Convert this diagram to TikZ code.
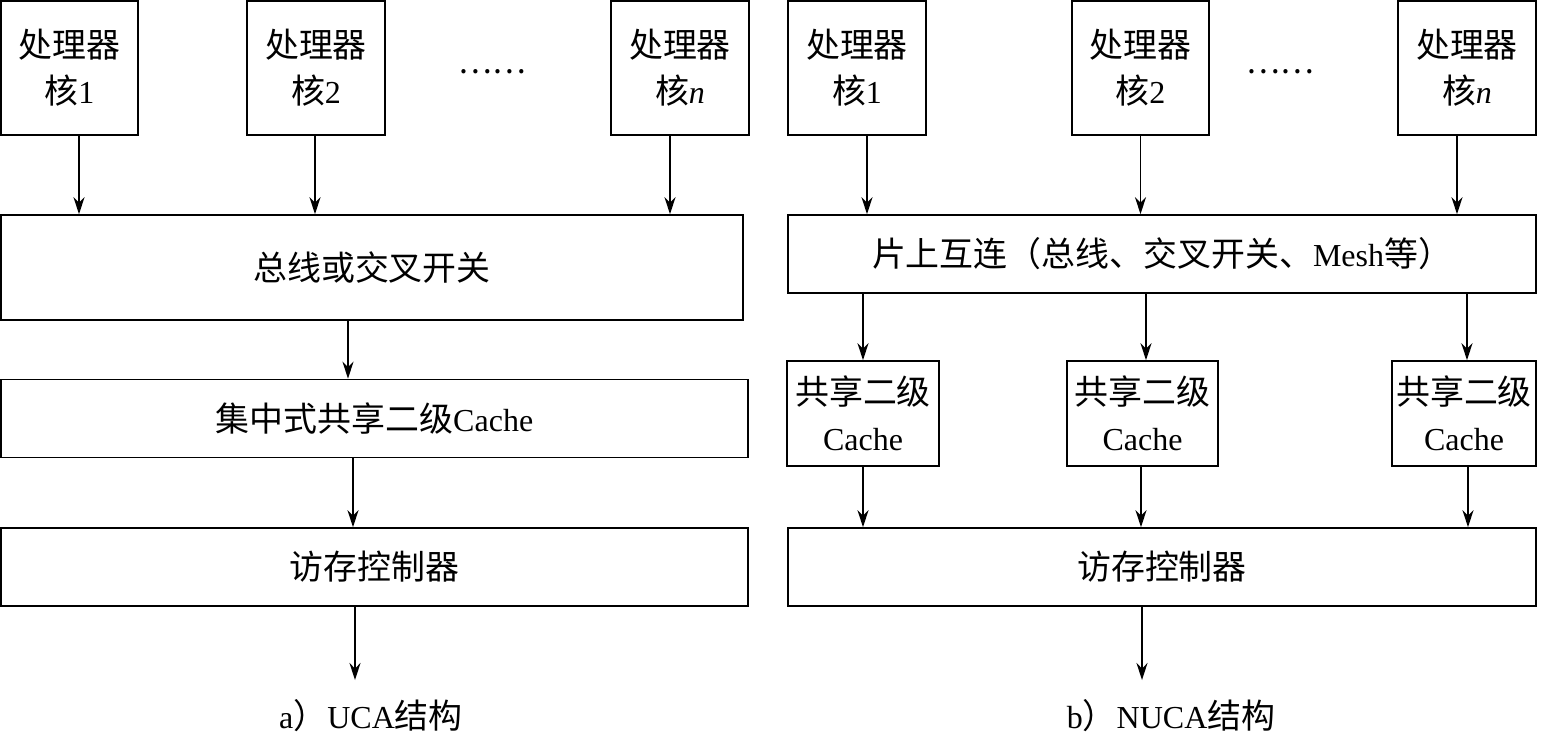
\documentclass[tikz,border=0pt]{standalone}
\usepackage{fontspec}
\setmainfont{Liberation Serif}
\newfontfamily\cjk{Noto Sans CJK SC}[Scale=1.06]
\usetikzlibrary{arrows.meta}
\tikzset{
  blk/.style={draw, line width=0.8pt, inner sep=0pt, align=center},
  core/.style={blk, minimum width=68.75pt, minimum height=67pt},
  l2/.style={blk, minimum height=52.5pt},
  wide/.style={blk, minimum width=373.5pt, minimum height=39pt},
  arr/.style={line width=0.8pt, -{Stealth[length=8.5pt,width=5.5pt]}},
}
\begin{document}
\begin{tikzpicture}[x=0.5pt, y=-0.5pt, font=\fontsize{16}{23}\selectfont]
    \useasboundingbox (0,0) rectangle (1543,736);
    % a) UCA
    \node[core] (a1) at (69.5,68) {{\cjk 处理器}\\{\cjk 核}1};
    \node[core] (a2) at (316,68) {{\cjk 处理器}\\{\cjk 核}2};
    \node[core] (an) at (680,68) {{\cjk 处理器}\\{\cjk 核}\textit{n}};
    \node[font=\fontsize{15}{15}\selectfont] (adots) at (492,72) {\cjk ……};
    \node[blk, minimum width=371pt, minimum height=52.5pt] (abus) at (372,267.5) {\cjk 总线或交叉开关};
    \node[wide] (acache) at (374.5,418.5) {{\cjk 集中式共享二级}Cache};
    \node[wide] (amem) at (374.5,567) {\cjk 访存控制器};
    \coordinate (aout) at (355,680);
    \node[inner sep=0pt] (acap) at (371,716) {a{\cjk ）}UCA{\cjk 结构}};
    \foreach \n/\d in {a1/4.75pt, a2/-0.5pt, an/-5pt}
      \draw[arr] ([xshift=\d]\n.south) coordinate (t) -- (t |- abus.north);
    \draw[arr] ([xshift=-12pt]abus.south) coordinate (t) -- (t |- acache.north);
    \draw[arr] ([xshift=-10.75pt]acache.south) coordinate (t) -- (t |- amem.north);
    \draw[arr] (amem.south -| aout) -- (aout);
    % b) NUCA
    \node[core] (b1) at (857,68) {{\cjk 处理器}\\{\cjk 核}1};
    \node[core] (b2) at (1140.5,68) {{\cjk 处理器}\\{\cjk 核}2};
    \node[core] (bn) at (1467,68) {{\cjk 处理器}\\{\cjk 核}\textit{n}};
    \node[font=\fontsize{15}{15}\selectfont] (bdots) at (1280,72) {\cjk ……};
    \node[wide, minimum width=374pt] (bnet) at (1162,254) {{\cjk 片上互连（总线、交叉开关、}Mesh{\cjk 等）}};
    \node[l2, minimum width=76pt] (ba) at (863,413.5) {{\cjk 共享二级}\\Cache};
    \node[l2, minimum width=75.5pt] (bb) at (1142.5,413.5) {{\cjk 共享二级}\\Cache};
    \node[l2, minimum width=72pt] (bc) at (1464,413.5) {{\cjk 共享二级}\\Cache};
    \node[wide, minimum width=374pt] (bmem) at (1162,567) {\cjk 访存控制器};
    \coordinate (bout) at (1142,680);
    \node[inner sep=0pt] (bcap) at (1171,716) {b{\cjk ）}NUCA{\cjk 结构}};
    \foreach \n/\d in {b1/5pt, b2/0pt, bn/-5pt}
      \draw[arr] ([xshift=\d]\n.south) coordinate (t) -- (t |- bnet.north);
    \foreach \n/\d in {ba/0pt, bb/1.75pt, bc/1.5pt} {
      \path ([xshift=\d]\n.north) coordinate (t);
      \draw[arr] (t |- bnet.south) -- (t);
    }
    \foreach \n/\d in {ba/0pt, bb/-0.75pt, bc/2pt}
      \draw[arr] ([xshift=\d]\n.south) coordinate (t) -- (t |- bmem.north);
    \draw[arr] (bmem.south -| bout) -- (bout);
\end{tikzpicture}
\end{document}
